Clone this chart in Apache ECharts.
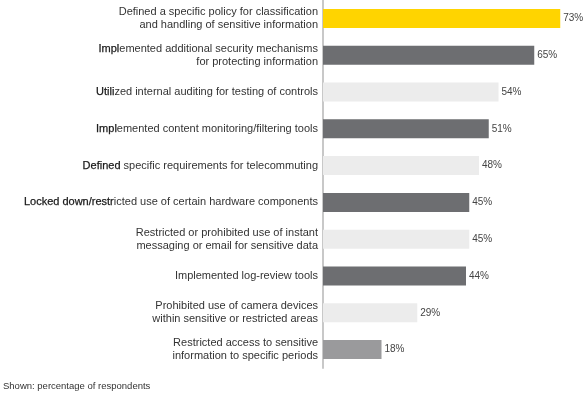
<!DOCTYPE html>
<html>
<head>
<meta charset="utf-8">
<script src="https://cdn.jsdelivr.net/npm/echarts@6/dist/echarts.min.js"></script>
<style>
  html, body { margin: 0; padding: 0; background: #fff; }
  #chart { width: 585px; height: 398px; }
</style>
</head>
<body>
<div id="chart"></div>
<script>
const categories = [
  'Defined a specific policy for classification\nand handling of sensitive information',
  'Implemented additional security mechanisms\nfor protecting information',
  'Utilized internal auditing for testing of controls',
  'Implemented content monitoring/filtering tools',
  'Defined specific requirements for telecommuting',
  'Locked down/restricted use of certain hardware components',
  'Restricted or prohibited use of instant\nmessaging or email for sensitive data',
  'Implemented log-review tools',
  'Prohibited use of camera devices\nwithin sensitive or restricted areas',
  'Restricted access to sensitive\ninformation to specific periods'
]
const values = [73, 65, 54, 51, 48, 45, 45, 44, 29, 18]
const footnote = 'Shown: percentage of respondents'

// bar fills, top to bottom
const barColors = ['#ffd400', '#6d6e71', '#ececec', '#6d6e71', '#ececec',
  '#6d6e71', '#ececec', '#6d6e71', '#ececec', '#9a9a9c']
// the source renders the first few letters of some labels heavier
const boldChars = [0, 4, 5, 4, 7, 17, 0, 0, 0, 0]

const font = '"Liberation Sans", Arial, sans-serif'
const chart = echarts.init(document.getElementById('chart'))

chart.setOption({
  animation: false,
  title: {
    text: footnote,
    left: 3,
    top: 381,
    padding: 0,
    textStyle: { fontSize: 9.5, fontWeight: 'normal', color: '#333', fontFamily: font }
  },
  grid: { left: 323, top: -3, width: 260, height: 371 },
  xAxis: {
    type: 'value',
    min: 0,
    max: 80,
    show: false
  },
  yAxis: {
    type: 'category',
    inverse: true,
    data: categories,
    axisLine: { lineStyle: { color: '#c8c8c8', width: 2 } },
    axisTick: { show: false },
    axisLabel: {
      margin: 5,
      align: 'right',
      color: '#333',
      fontSize: 11,
      lineHeight: 12.7,
      fontFamily: font,
      formatter: (val, idx) => {
        const n = boldChars[idx]
        if (!n) return '{r|' + val + '}'
        return '{b|' + val.slice(0, n) + '}{r|' + val.slice(n) + '}'
      },
      rich: {
        r: { fontSize: 11, lineHeight: 12.7, color: '#333', fontFamily: font },
        b: {
          fontSize: 11, lineHeight: 12.7, color: '#1a1a1a', fontFamily: font,
          textBorderColor: '#1a1a1a', textBorderWidth: 0.25
        }
      }
    }
  },
  series: [{
    type: 'bar',
    barWidth: 19,
    data: values.map((v, i) => ({ value: v, itemStyle: { color: barColors[i] } })),
    label: {
      show: true,
      position: 'right',
      distance: 3,
      formatter: '{c}%',
      fontSize: 10,
      color: '#444',
      fontFamily: font
    }
  }]
})
</script>
</body>
</html>
